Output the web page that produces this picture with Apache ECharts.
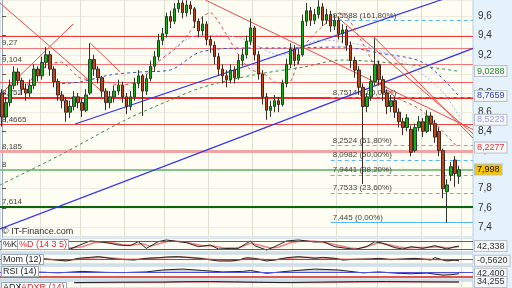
<!DOCTYPE html>
<html><head><meta charset="utf-8">
<script src="https://cdn.jsdelivr.net/npm/echarts@6/dist/echarts.min.js"></script>
<style>html,body{margin:0;padding:0;background:#e6f2fb;}#c{width:512px;height:288px;}</style>
</head><body><div id="c"></div>
<script>
// ---- candle data (index 0..114), 3 empty slots at the end ----
const opens  = [8.80,8.55,8.70,8.88,9.02,8.93,8.84,8.80,8.88,9.05,8.98,9.12,9.20,9.05,8.92,8.78,8.72,8.60,8.66,8.76,8.70,8.62,8.80,9.15,9.05,8.96,8.82,8.70,8.76,8.82,8.88,8.76,8.66,8.76,8.90,8.98,8.82,8.95,9.08,9.18,9.35,9.42,9.60,9.55,9.68,9.74,9.64,9.72,9.68,9.55,9.45,9.52,9.36,9.30,9.18,9.05,8.98,8.94,9.04,8.96,9.14,9.20,9.34,9.48,9.20,9.00,8.76,8.62,8.66,8.72,8.68,8.90,9.10,9.26,9.14,9.20,9.55,9.66,9.56,9.62,9.70,9.56,9.62,9.50,9.56,9.42,9.46,9.30,9.14,9.04,8.86,8.66,8.76,8.92,9.10,8.94,8.80,8.66,8.72,8.60,8.50,8.44,8.42,8.20,8.44,8.50,8.40,8.56,8.48,8.40,8.20,7.77,7.94,8.10,7.93];
const closes = [8.55,8.70,8.88,9.02,8.93,8.84,8.80,8.88,9.05,8.98,9.12,9.20,9.05,8.92,8.78,8.72,8.60,8.66,8.76,8.70,8.62,8.78,9.15,9.05,8.96,8.82,8.70,8.76,8.82,8.88,8.76,8.66,8.76,8.90,8.98,8.82,8.95,9.08,9.18,9.35,9.42,9.60,9.55,9.68,9.74,9.64,9.72,9.68,9.55,9.45,9.52,9.36,9.30,9.18,9.05,8.98,8.94,9.04,8.96,9.14,9.20,9.34,9.48,9.20,9.00,8.76,8.62,8.66,8.72,8.68,8.90,9.10,9.26,9.14,9.20,9.55,9.66,9.56,9.62,9.70,9.56,9.62,9.50,9.56,9.42,9.46,9.30,9.14,9.04,8.86,8.66,8.76,8.92,9.10,8.94,8.80,8.66,8.72,8.60,8.50,8.44,8.54,8.18,8.44,8.50,8.40,8.56,8.48,8.34,8.20,7.80,7.84,8.03,7.96,7.998];
const lows   = [8.45,8.50,8.66,8.84,8.88,8.78,8.72,8.76,8.84,8.92,8.94,9.06,8.98,8.86,8.72,8.64,8.50,8.54,8.62,8.64,8.55,8.60,8.78,8.98,8.90,8.76,8.62,8.64,8.70,8.78,8.70,8.58,8.62,8.72,8.85,8.56,8.78,8.92,9.02,9.14,9.30,9.38,9.48,9.52,9.64,9.58,9.60,9.62,9.48,9.38,9.40,9.30,9.22,9.10,8.98,8.90,8.86,8.90,8.90,8.94,9.08,9.16,9.30,9.14,8.94,8.68,8.52,8.55,8.60,8.60,8.66,8.86,9.06,9.08,9.10,9.18,9.50,9.50,9.52,9.58,9.50,9.52,9.44,9.46,9.36,9.32,9.24,9.06,8.96,8.78,7.85,8.60,8.72,8.88,8.88,8.72,8.58,8.60,8.54,8.44,8.36,8.40,8.14,8.18,8.40,8.34,8.38,8.40,8.28,8.14,7.70,7.445,7.88,7.82,7.85];
const highs  = [8.84,8.76,8.94,9.08,9.06,8.96,8.90,8.94,9.10,9.08,9.18,9.28,9.24,9.08,8.95,8.82,8.76,8.72,8.82,8.80,8.74,8.84,9.32,9.20,9.08,8.98,8.85,8.82,8.88,8.94,8.92,8.80,8.82,8.96,9.04,9.00,9.00,9.14,9.24,9.42,9.48,9.64,9.66,9.74,9.79,9.77,9.77,9.76,9.70,9.58,9.60,9.55,9.40,9.34,9.22,9.10,9.04,9.10,9.08,9.20,9.26,9.40,9.58,9.50,9.24,9.04,8.80,8.72,8.78,8.76,8.94,9.16,9.32,9.30,9.26,9.62,9.74,9.70,9.68,9.77,9.74,9.68,9.66,9.62,9.60,9.52,9.50,9.34,9.18,9.08,8.90,8.80,8.98,9.37,9.14,8.98,8.84,8.78,8.76,8.64,8.54,8.58,8.46,8.48,8.56,8.54,8.62,8.60,8.52,8.44,8.22,7.90,8.08,8.14,8.04];
const slots = 118;
const vGridIdx = [10, 20, 31, 41, 52, 63, 73, 84, 94, 105, 115];

// ---- horizontal levels ----
const hLevels = [9.386, 9.27, 9.104, 8.915, 8.752, 8.4665, 8.185, 8.0, 7.614];
const hLabels = ['', '9,27', '9,104', '', '8,752', '8,4665', '8,185', '8', '7,614'];
// ---- fibonacci ----
const fiboLevels = [9.5588, 8.7514, 8.2524, 8.0982, 7.9441, 7.7533, 7.445];
const fiboLabels = ['9,5588 (161,80%)','8,7514 (100,00%)','8,2524 (61,80%)','8,0982 (50,00%)','7,9441 (38,20%)','7,7533 (23,60%)','7,445 (0,00%)'];
const fiboStart = 82;
// ---- trend lines [index, price] ----
const blueLow  = [[-0.5, 7.379], [117.5, 9.267]];
const blueHigh = [[18.25, 8.476], [117.5, 9.887]];
const redLines = [
  [[-0.5, 9.741], [24.5, 8.832]],
  [[17.75, 9.522], [0.25, 8.811]],
  [[22, 9.323], [29.5, 9.020]],
  [[50.75, 9.772], [117.5, 8.419]],
  [[83.5, 9.60], [117.5, 8.375]],
  [[92.75, 9.386], [117.5, 8.33]]
];
// ---- moving averages [index, price] ----
const maGreen = [[-0.5,7.839],[14.5,8.152],[30.75,8.518],[42,8.727],[50.25,8.863],[62.75,8.989],[75.25,9.072],[84.5,9.145],[94.5,9.124],[104.5,9.083],[113.75,9.0288]];
const maBlue  = [[13.5,8.895],[19.5,8.916],[27,8.989],[34.5,9.02],[42,9.041],[49.5,9.229],[62.75,9.271],[70.25,9.271],[84.5,9.281],[94,9.219],[105.25,9.114],[114,8.7659]];
const maLav   = [[29.5,8.727],[39.5,9.145],[49.5,9.407],[59.5,9.375],[69.5,9.198],[79.5,9.354],[89.5,9.302],[99.5,9.145],[109.5,8.832],[114.5,8.5223]];
const maRed   = [[4.5,8.78],[9.5,9.04],[14.5,9.124],[19.5,8.957],[24.5,8.936],[29.5,8.884],[34.5,8.936],[39.5,9.145],[43.75,9.281],[52,9.637],[53.75,9.563],[61.25,9.072],[65.75,8.989],[68.75,8.905],[71.25,8.905],[75.25,9.281],[79.5,9.48],[84.5,9.637],[89.5,9.354],[97,8.8],[104.5,8.623],[113.75,8.2277]];
const lastVals = {green:9.0288, blue:8.7659, lav:8.5223, red:8.2277, close:7.998};
// ---- indicators [index, value] ----
const stochK = [[14,31],[17,21],[19,45],[22,79],[24,74],[27,62],[29,50],[32,45],[34,74],[36,26],[39,74],[41,86],[44,74],[46,67],[49,38],[52,50],[54,21],[57,26],[59,26],[61,62],[62,79],[63,45],[66,14],[68,38],[71,79],[74,86],[78,71],[80,74],[83,38],[86,26],[88,19],[91,38],[93,74],[95,62],[98,31],[100,21],[102,38],[105,26],[108,45],[111,21],[113,38],[114,42.3]];
const stochD = [[14,35],[17,28],[20,38],[23,66],[25,74],[28,64],[30,52],[33,50],[35,60],[37,40],[40,66],[42,80],[45,74],[47,62],[50,44],[53,42],[55,30],[58,26],[60,40],[62,62],[64,50],[67,28],[69,36],[72,66],[75,80],[78,76],[81,66],[84,46],[87,28],[89,24],[92,48],[94,66],[96,56],[99,36],[101,28],[103,32],[106,32],[109,38],[111,30],[113,34],[114,38]];
const momBlack = [[9,0.2],[12,-0.1],[16,-0.6],[19,0.2],[22,0.5],[24,0.7],[27,0.2],[29,-0.1],[33,-0.3],[36,0.2],[39,0.4],[41,0.6],[44,0.7],[46,0.5],[49,0.2],[51,-0.1],[54,-0.6],[57,-0.6],[59,-0.3],[61,0.4],[63,0.2],[66,-0.6],[68,-0.3],[71,0.4],[74,0.7],[78,0.2],[80,0.5],[83,0.2],[85,-0.3],[88,-0.1],[92,0],[94,0.2],[97,-0.2],[100,0],[103,0.2],[107,-0.3],[108,0.4],[111,-0.6],[113,-0.3],[114,-0.56]];
const momRed = [[9,0.1],[13,-0.2],[17,-0.4],[20,0.1],[23,0.4],[25,0.5],[28,0.2],[31,-0.1],[34,-0.1],[37,0.2],[40,0.4],[43,0.5],[46,0.5],[49,0.3],[52,-0.1],[55,-0.4],[58,-0.5],[61,0.1],[64,0],[67,-0.4],[70,0],[73,0.4],[76,0.5],[79,0.3],[82,0.2],[85,-0.1],[89,-0.1],[93,0.1],[97,-0.1],[101,0],[104,0.1],[107,-0.1],[110,-0.2],[112,-0.4],[114,-0.45]];
const rsiLine = [[8,50],[14,46],[20,52],[26,48],[30,47],[36,50],[40,58],[45,62],[50,56],[55,50],[60,52],[62,56],[66,44],[72,54],[78,62],[84,58],[90,46],[94,50],[98,45],[102,42],[106,45],[110,36],[112,38],[114,42.4]];
const adxLine = [[18,31],[30,33],[40,34],[45,36],[52,37],[58,35],[64,32],[72,31],[80,34],[88,36],[96,37],[102,36],[108,35],[114,34.255]];
const adxrLine = [[18,30],[30,31],[40,32],[46,34],[54,35],[62,34],[70,32],[80,32],[90,34],[98,35],[106,35],[114,34.8]];
const indLast = {k:42.338, mom:-0.5620, rsi:42.400, adx:34.255};

const cats = []; for (let i = 0; i < slots; i++) cats.push(String(i + 1));
const candleData = opens.map((o, i) => [o, closes[i], lows[i], highs[i]]);
const FONT = 'Liberation Sans, Arial, sans-serif';
const fmt = v => String(v).replace('.', ',');
const hColors = ['#ee3a3a','#f07878','#f07878','#f06060','#ee2a2a','#ee4444','#f0a4a4','#86c486','#0a640a'];
const hWidths = [1,1,1,1,2,1,3,2,2];
const NOLINE = {color:'rgba(0,0,0,0)', width:0};

const boxLabel = (text, color, bg) => ({show:true, position:'end', distance:2, formatter:text, color:color, fontSize:9, fontFamily:FONT, backgroundColor:bg||'#f4f6f8', borderColor:'#b8c0c8', borderWidth:1, padding:[1,2,0,2]});
const lastMark = (v, text, color, bg) => ({symbol:'none', silent:true, data:[{yAxis:v, lineStyle:NOLINE, label:boxLabel(text, color, bg)}]});

const catAxis = (g) => ({type:'category', gridIndex:g, data:cats, boundaryGap:true, axisLine:{show:false}, axisTick:{show:false}, axisLabel:{show:false},
  splitLine:{show:true, interval:(i)=>vGridIdx.includes(i), lineStyle:{color:'#e0e0d2', width:1}}});
const indY = (g, min, max) => ({type:'value', gridIndex:g, min:min, max:max, position:'right', axisLine:{show:false}, axisTick:{show:false}, axisLabel:{show:false}, splitLine:{show:false}});
const gridBase = {left:0, width:473, show:true, backgroundColor:'#fdfdf3', borderColor:'#b4cce2', borderWidth:1};
const hl = (v, color, w) => ({yAxis:v, lineStyle:{color:color, width:w, type:'solid'}, label:{show:false}});
const tLabel = (text, left, top, color) => ({text:text, left:left, top:top, textStyle:{fontSize:9, fontWeight:'normal', color:color||'#222', fontFamily:FONT}, backgroundColor:'#ffffff', borderColor:'#a0a8b0', borderWidth:1, padding:[1,2]});

const series = [];
series.push({type:'candlestick', name:'price', xAxisIndex:0, yAxisIndex:0, data:candleData, barWidth:3, z:5,
  itemStyle:{color:'#12b012', color0:'#b8461e', borderColor:'#2c3c2c', borderColor0:'#3c2a22', borderWidth:1},
  markLine:lastMark(lastVals.close, '7,998', '#111', '#f5c400')});
series.push({type:'line', xAxisIndex:1, yAxisIndex:0, data:blueLow, showSymbol:false, symbol:'none', z:3,
  lineStyle:{color:'#3333ee', width:1.2},
  markLine:{symbol:'none', silent:true, z:2,
    data: hLevels.map((v,i)=>({yAxis:v, lineStyle:{color:hColors[i], width:hWidths[i], type:'solid'},
      label:{show:hLabels[i] !== '', position:'insideStartTop', formatter:hLabels[i], color:'#444', fontSize:8, fontFamily:FONT, distance:[2,1]}}))
      .concat(fiboLevels.map((v,i)=>[{coord:[fiboStart, v], lineStyle:{color:'#5ab8f0', width:1, type: i===fiboLevels.length-1 ? 'solid':[4,3]},
        label:{show:true, position:'insideStartTop', formatter:fiboLabels[i], color:'#444', fontSize:8, fontFamily:FONT, distance:[2,1]}}, {coord:[117.5, v]}]))
  }});
series.push({type:'line', xAxisIndex:1, yAxisIndex:0, data:blueHigh, symbol:'none', z:3, lineStyle:{color:'#3333ee', width:1.2}});
redLines.forEach(r => series.push({type:'line', xAxisIndex:1, yAxisIndex:0, data:r, symbol:'none', z:3, lineStyle:{color:'#f04848', width:1}}));
series.push({type:'line', xAxisIndex:1, yAxisIndex:0, data:maGreen, symbol:'none', z:4, smooth:0.3, lineStyle:{color:'#3a8a4a', width:1, type:[3,3]}, markLine:lastMark(lastVals.green,'9,0288','#2a8a2a')});
series.push({type:'line', xAxisIndex:1, yAxisIndex:0, data:maBlue, symbol:'none', z:4, smooth:0.3, lineStyle:{color:'#3050d0', width:1, type:[3,3]}, markLine:lastMark(lastVals.blue,'8,7659','#2a40c0')});
series.push({type:'line', xAxisIndex:1, yAxisIndex:0, data:maLav, symbol:'none', z:4, smooth:0.3, lineStyle:{color:'#a8b0e8', width:1, type:[2,2]}, markLine:lastMark(lastVals.lav,'8,5223','#a0a0e0')});
series.push({type:'line', xAxisIndex:1, yAxisIndex:0, data:maRed, symbol:'none', z:4, smooth:0.3, lineStyle:{color:'#e04848', width:1, type:[3,3]}, markLine:lastMark(lastVals.red,'8,2277','#e03a3a')});
series.push({type:'line', xAxisIndex:2, yAxisIndex:1, data:stochD, symbol:'none', lineStyle:{color:'#f08080', width:1.5}});
series.push({type:'line', xAxisIndex:2, yAxisIndex:1, data:stochK, symbol:'none', lineStyle:{color:'#222', width:1},
  markLine:{symbol:'none', silent:true, data:[hl(80,'#5050e0',1), hl(20,'#5050e0',1), {yAxis:indLast.k, lineStyle:NOLINE, label:boxLabel('42,338','#333')}]}});
series.push({type:'line', xAxisIndex:3, yAxisIndex:2, data:momRed, symbol:'none', lineStyle:{color:'#f08080', width:1.5}});
series.push({type:'line', xAxisIndex:3, yAxisIndex:2, data:momBlack, symbol:'none', lineStyle:{color:'#222', width:1},
  markLine:{symbol:'none', silent:true, data:[hl(0,'#5050e0',1), {yAxis:indLast.mom, lineStyle:NOLINE, label:boxLabel('-0,5620','#333')}]}});
series.push({type:'line', xAxisIndex:4, yAxisIndex:3, data:rsiLine, symbol:'none', lineStyle:{color:'#222', width:1}, areaStyle:{color:'#c8c8c8', origin:50, opacity:0.8},
  markLine:{symbol:'none', silent:true, data:[hl(50,'#5050e0',1), hl(30,'#d02020',1.5), {yAxis:indLast.rsi, lineStyle:NOLINE, label:boxLabel('42,400','#333')}]}});
series.push({type:'line', xAxisIndex:5, yAxisIndex:4, data:adxrLine, symbol:'none', lineStyle:{color:'#f08080', width:1.5}});
series.push({type:'line', xAxisIndex:5, yAxisIndex:4, data:adxLine, symbol:'none', lineStyle:{color:'#222', width:1},
  markLine:{symbol:'none', silent:true, data:[{yAxis:indLast.adx, lineStyle:NOLINE, label:boxLabel('34,255','#333')}]}});

const option = {
  animation:false,
  backgroundColor:'#e6f2fb',
  textStyle:{fontFamily:FONT},
  title:[
    {text:'\u00a9 IT-Finance.com', left:2, top:227, textStyle:{fontSize:9, fontWeight:'normal', color:'#333', fontFamily:FONT}, padding:0},
    tLabel('%K', 1, 239), tLabel('%D (14 3 5)', 17, 239, '#e03030'),
    tLabel('Mom (12)', 1, 254), tLabel('RSI (14)', 1, 266),
    tLabel('ADX', 1, 282), tLabel('ADXR (14)', 19, 282, '#e03030')
  ],
  grid:[
    Object.assign({top:0, height:237}, gridBase),
    Object.assign({top:238, height:14}, gridBase),
    Object.assign({top:254, height:10}, gridBase),
    Object.assign({top:266, height:13}, gridBase),
    Object.assign({top:281, height:24}, gridBase)
  ],
  xAxis:[catAxis(0), {type:'value', gridIndex:0, min:-0.5, max:117.5, show:false}, catAxis(1), catAxis(2), catAxis(3), catAxis(4)],
  yAxis:[
    {type:'value', gridIndex:0, position:'right', min:7.2955, max:9.7724, splitNumber:12, minInterval:0.2, maxInterval:0.2,
      axisLine:{show:true, lineStyle:{color:'#9aa4ae'}}, axisTick:{show:true, length:4, lineStyle:{color:'#555'}},
      axisLabel:{color:'#333', fontSize:10, margin:5, showMinLabel:false, showMaxLabel:false, fontFamily:FONT,
        formatter: v => { const r = Math.round(v*10)/10; return Math.abs(v-r) > 1e-6 ? '' : fmt(r); }},
      splitLine:{show:true, lineStyle:{color:'#ececdf'}}},
    indY(1, 0, 100), indY(2, -1.5, 1.5), indY(3, 20, 75), indY(4, 0, 40)
  ],
  series: series
};
const chart = echarts.init(document.getElementById('c'));
chart.setOption(option);
</script></body></html>
